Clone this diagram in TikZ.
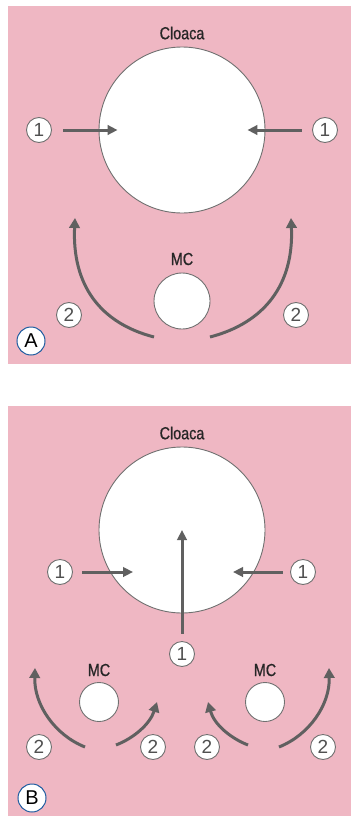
\documentclass[tikz,border=0pt]{standalone}
\usepackage{fontspec}
\setmainfont{Liberation Sans}
\newfontfamily\narrowfont{Liberation Sans}[FakeStretch=0.82,FakeBold=0.6]
\usetikzlibrary{arrows.meta}
\definecolor{bgpink}{RGB}{239,183,195}
\definecolor{arrgray}{RGB}{96,96,96}
\definecolor{digitgray}{RGB}{80,80,80}
\definecolor{edgegray}{RGB}{112,112,112}
\definecolor{badgeblue}{RGB}{31,92,160}
\tikzset{
  panel/.style={fill=bgpink, draw=none},
  bigcirc/.style={circle, draw=edgegray, line width=0.9pt, fill=white, minimum size=166pt, inner sep=0pt},
  mcbig/.style={circle, draw=edgegray, line width=0.9pt, fill=white, minimum size=56pt, inner sep=0pt},
  mcsmall/.style={circle, draw=edgegray, line width=0.9pt, fill=white, minimum size=39pt, inner sep=0pt},
  numlabel/.style={circle, draw=edgegray, line width=0.9pt, fill=white, minimum size=25pt, inner sep=0pt,
    text=digitgray, font=\fontsize{19}{19}\selectfont},
  badge/.style={circle, draw=badgeblue, line width=1pt, fill=white, minimum size=28pt, inner sep=0pt,
    font=\fontsize{20}{20}\selectfont},
  title/.style={font=\narrowfont\fontsize{17.5}{17.5}\selectfont, text=black!85, inner sep=0pt},
  arr/.style={draw=arrgray, line width=3pt, -{Triangle[length=10pt,width=9.5pt]}},
  carr/.style={draw=arrgray, line width=3pt, -{Triangle[length=10pt,width=10.5pt]}},
}
\begin{document}
\begin{tikzpicture}[x=1pt,y=-1pt]
\useasboundingbox (0,0) rectangle (351,816);
\fill[white] (0,0) rectangle (351,816);
% ---------------- Panel A ----------------
\fill[panel] (8,6) rectangle (351,364);
\node[title] (cloacaTxtA) at (182,33) {Cloaca};
\node[bigcirc] (cloacaA) at (182,130) {};
\node[title] (mcTxtA) at (182,259) {MC};
\node[mcbig] (mcA) at (182,301) {};
\node[numlabel] (oneLA) at (39,130) {1};
\node[numlabel] (oneRA) at (325,130) {1};
\node[numlabel] (twoLA) at (69,315) {2};
\node[numlabel] (twoRA) at (296,315) {2};
\node[badge] (badgeA) at (31,341) {A};
\draw[arr] ([xshift=11.5pt]oneLA.east) -- ([xshift=19pt]cloacaA.west);
\draw[arr] ([xshift=-10.5pt]oneRA.west) -- ([xshift=-18pt]cloacaA.east);
\coordinate (aLs) at (154,337);
\coordinate (aLe) at (75,218);
\coordinate (aRs) at (210,337);
\coordinate (aRe) at (291,218);
\draw[carr] (aLs) .. controls (100,323) and (72,285) .. (aLe);
\draw[carr] (aRs) .. controls (264,323) and (294,285) .. (aRe);
% ---------------- Panel B ----------------
\fill[panel] (8,406) rectangle (351,816);
\node[title] (cloacaTxtB) at (182,433) {Cloaca};
\node[bigcirc] (cloacaB) at (182,530) {};
\node[numlabel] (oneLB) at (60,572) {1};
\node[numlabel] (oneRB) at (303,572) {1};
\node[numlabel] (oneBB) at (182,654) {1};
\draw[arr] ([xshift=9.5pt]oneLB.east) -- (133,572);
\draw[arr] ([xshift=-7.5pt]oneRB.west) -- (233,572);
\draw[arr] ([yshift=7.5pt]oneBB.north) -- (cloacaB.center);
\node[title] (mcTxtBL) at (99,670) {MC};
\node[mcsmall] (mcBL) at (99,702) {};
\node[title] (mcTxtBR) at (265,670) {MC};
\node[mcsmall] (mcBR) at (265,702) {};
\node[numlabel] (twoB1) at (39,747) {2};
\node[numlabel] (twoB2) at (153,747) {2};
\node[numlabel] (twoB3) at (207,747) {2};
\node[numlabel] (twoB4) at (323,747) {2};
\node[badge] (badgeB) at (32,798) {B};
\coordinate (b1s) at (85,747);
\coordinate (b1e) at (35,668);
\coordinate (b2s) at (116,745);
\coordinate (b2e) at (157,702);
\coordinate (b3s) at (248,745);
\coordinate (b3e) at (208,702);
\coordinate (b4s) at (279,747);
\coordinate (b4e) at (329,668);
\draw[carr] (b1s) .. controls (55,735) and (34,705) .. (b1e);
\draw[carr] (b2s) .. controls (134,738) and (150,724) .. (b2e);
\draw[carr] (b3s) .. controls (230,738) and (214,724) .. (b3e);
\draw[carr] (b4s) .. controls (309,735) and (330,705) .. (b4e);
\end{tikzpicture}
\end{document}
